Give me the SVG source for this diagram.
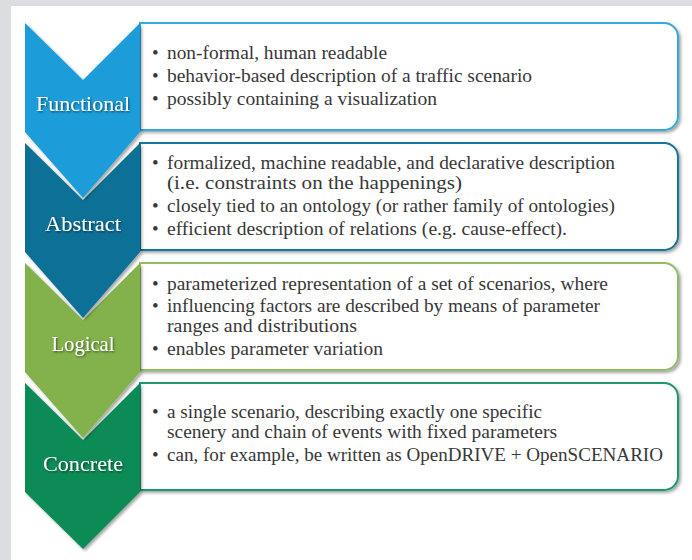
<svg xmlns="http://www.w3.org/2000/svg" width="692" height="560" viewBox="0 0 692 560">
  <defs>
    <filter id="sh" x="-10%" y="-10%" width="125%" height="125%">
      <feDropShadow dx="2" dy="2" stdDeviation="1.6" flood-color="#000" flood-opacity="0.35"/>
    </filter>
    <filter id="tsh" x="-10%" y="-30%" width="125%" height="170%">
      <feDropShadow dx="1" dy="1.2" stdDeviation="1" flood-color="#000" flood-opacity="0.55"/>
    </filter>
  </defs>
  <style>
    .body { font-size: 19px; fill: #383838; }
    .lbl { font-size: 21px; fill: #ffffff; text-anchor: middle; filter: url(#tsh); }
    .box { fill: #ffffff; stroke-width: 2; filter: url(#sh); }
    .chev { filter: url(#sh); }
  </style>
  <rect x="0" y="0" width="692" height="560" fill="#dcdde0"/>
  <rect x="11" y="6" width="681" height="554" fill="#ffffff"/>

  <g id="connectors"></g>

  <g font-family="'Liberation Serif', 'Times New Roman', 'DejaVu Serif', serif">
  <g id="concrete">
    <path class="box" stroke="#1f9a69" d="M140,383 H664 A14,14 0 0 1 678,397 V476 A14,14 0 0 1 664,490 H140 Z"/>
    <polygon class="chev" fill="#0a8b56" points="25,383 83,440 140,383 140,492 83,549 25,492"/>
    <text class="lbl" x="83" y="471" textLength="80" lengthAdjust="spacingAndGlyphs">Concrete</text>
    <text class="body" x="152" y="418">•</text>
    <text class="body" x="167" y="418" textLength="375" lengthAdjust="spacingAndGlyphs">a single scenario, describing exactly one specific</text>
    <text class="body" x="167" y="438" textLength="390" lengthAdjust="spacingAndGlyphs">scenery and chain of events with fixed parameters</text>
    <text class="body" x="152" y="461">•</text>
    <text class="body" x="167" y="461" textLength="496" lengthAdjust="spacingAndGlyphs">can, for example, be written as OpenDRIVE + OpenSCENARIO</text>
  </g>

  <g id="logical">
    <path class="box" stroke="#93bd62" d="M140,263 H664 A14,14 0 0 1 678,277 V356 A14,14 0 0 1 664,370 H140 Z"/>
    <polygon class="chev" fill="#83b24d" points="25,263 83,320 140,263 140,372 83,438 25,372"/>
    <text class="lbl" x="83" y="351" textLength="63" lengthAdjust="spacingAndGlyphs">Logical</text>
    <text class="body" x="152" y="290">•</text>
    <text class="body" x="167" y="290" textLength="441" lengthAdjust="spacingAndGlyphs">parameterized representation of a set of scenarios, where</text>
    <text class="body" x="152" y="312">•</text>
    <text class="body" x="167" y="312" textLength="433" lengthAdjust="spacingAndGlyphs">influencing factors are described by means of parameter</text>
    <text class="body" x="167" y="332" textLength="190" lengthAdjust="spacingAndGlyphs">ranges and distributions</text>
    <text class="body" x="152" y="355">•</text>
    <text class="body" x="167" y="355" textLength="216" lengthAdjust="spacingAndGlyphs">enables parameter variation</text>
  </g>

  <g id="abstract">
    <path class="box" stroke="#16749b" d="M140,143 H664 A14,14 0 0 1 678,157 V236 A14,14 0 0 1 664,250 H140 Z"/>
    <polygon class="chev" fill="#0b7197" points="25,143 83,200 140,143 140,252 83,318 25,252"/>
    <text class="lbl" x="83" y="231" textLength="76" lengthAdjust="spacingAndGlyphs">Abstract</text>
    <text class="body" x="152" y="169">•</text>
    <text class="body" x="167" y="169" textLength="448" lengthAdjust="spacingAndGlyphs">formalized, machine readable, and declarative description</text>
    <text class="body" x="167" y="189" textLength="295" lengthAdjust="spacingAndGlyphs">(i.e. constraints on the happenings)</text>
    <text class="body" x="152" y="212">•</text>
    <text class="body" x="167" y="212" textLength="448" lengthAdjust="spacingAndGlyphs">closely tied to an ontology (or rather family of ontologies)</text>
    <text class="body" x="152" y="235">•</text>
    <text class="body" x="167" y="235" textLength="400" lengthAdjust="spacingAndGlyphs">efficient description of relations (e.g. cause-effect).</text>
  </g>

  <g id="functional">
    <path class="box" stroke="#35a8dc" d="M140,23 H664 A14,14 0 0 1 678,37 V116 A14,14 0 0 1 664,130 H140 Z"/>
    <polygon class="chev" fill="#1a9dd9" points="25,23 83,80 140,23 140,132 83,198 25,132"/>
    <text class="lbl" x="83" y="111" textLength="94" lengthAdjust="spacingAndGlyphs">Functional</text>
    <text class="body" x="152" y="59">•</text>
    <text class="body" x="167" y="59" textLength="220" lengthAdjust="spacingAndGlyphs">non-formal, human readable</text>
    <text class="body" x="152" y="82">•</text>
    <text class="body" x="167" y="82" textLength="365" lengthAdjust="spacingAndGlyphs">behavior-based description of a traffic scenario</text>
    <text class="body" x="152" y="105">•</text>
    <text class="body" x="167" y="105" textLength="270" lengthAdjust="spacingAndGlyphs">possibly containing a visualization</text>
  </g>
  </g>
</svg>
